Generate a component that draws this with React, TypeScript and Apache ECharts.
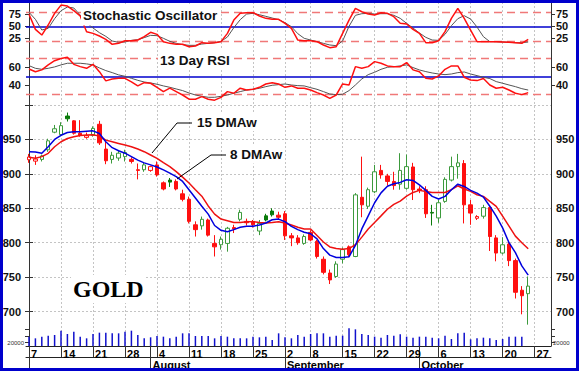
import React, { useEffect, useRef } from 'react';
import * as echarts from 'echarts';

// ---- x-axis (trading-day index) ----
const weekTickIdx = [0, 5, 10, 15, 20, 25, 30, 35, 40, 44, 49, 54, 59, 64, 69, 74, 79];
const weekLabels = ['7', '14', '21', '28', '4', '11', '18', '25', '2', '8', '15', '22', '29', '6', '13', '20', '27'];
const monthIdx = [0, 19, 40, 61];
const monthLabels = ['', 'August', 'September', 'October'];

// ---- price data (Jul 7 .. Oct 24) ----
const priorClose = 930;
const open = [920.5, 918.5, 921, 935, 960.5, 957, 984, 977, 959, 953, 956, 972, 936, 921, 923, 925, 921, 906, 906, 905, 913, 887, 891, 889, 871, 863, 826, 824.5, 833, 799, 797, 799, 822, 834, 831, 831, 817, 839, 846, 840, 842, 810, 807, 799, 815, 802, 776, 756, 751, 776, 794, 780, 866, 853, 874, 905, 897, 889, 885, 879, 910, 878, 877, 844, 836, 860, 891, 910.5, 915, 855, 835.5, 838.5, 851, 807, 785, 798, 774, 731, 726];
const high = [929, 927, 928, 951, 971, 975, 989, 978, 978, 960, 969, 977, 947, 932, 934, 935, 924, 915, 916, 912, 918, 889, 894, 892, 877, 867, 831, 838, 835, 811, 809, 823, 826, 848, 835, 833, 833, 842, 850, 845, 846, 814, 811, 812, 818, 804, 780, 761, 773, 793, 796, 872, 925, 880, 913, 913, 900, 903, 930, 928, 916, 882, 882, 855, 862, 895, 925, 929, 920, 862, 840, 855, 853, 811, 808, 801, 777, 737, 751];
const low = [916, 913, 918, 932, 959, 955, 976, 957, 954, 951, 954, 942, 914, 915, 919, 918, 915, 892, 903, 903, 896, 876, 881, 876, 860, 828, 809, 819, 809, 780, 790, 787, 814, 831, 825, 822, 811, 831, 838, 833, 804, 795, 797, 797, 802, 777, 754, 740, 749, 770, 779, 779, 837, 849, 872, 893, 883, 877, 877, 877, 862, 872, 836, 825, 829, 858, 889, 893, 828, 826, 833, 835, 788, 773, 783, 766, 719, 696, 681];
const close = [924.5, 921.5, 926, 948, 965.5, 970, 980, 959, 956, 955.5, 966, 945, 919, 927, 930, 931, 918, 905, 913, 910.5, 898.5, 878, 888, 878, 863, 831, 819, 834, 811, 794, 805, 821, 820, 844, 829, 826, 828, 833, 840.5, 837, 810, 807, 800, 809, 804, 780, 757, 746, 769, 790, 782.5, 869.5, 855, 877, 903, 898.5, 889, 883, 905, 910.5, 877, 876, 842, 843, 858, 892, 910.5, 916, 855, 843, 838, 851, 809, 785, 797, 774, 728, 723, 737];
const ma8 = [932, 931.7, 930, 939.4, 950, 956, 960, 961, 961, 962, 962.5, 958.7, 946.6, 938, 933.6, 930, 925, 920, 916, 913, 910, 905.7, 901, 896, 889, 877, 865, 853, 841.5, 825, 818, 816, 819, 822.4, 824, 824, 825.7, 828.6, 833.3, 834.3, 830.5, 823.8, 819, 815.3, 813, 805.7, 791.5, 782, 778.6, 778.6, 779.6, 796, 820, 839, 858, 872.4, 882, 885.7, 887.6, 891.4, 890.4, 884, 876, 867.3, 863.5, 867.3, 877, 885, 881.7, 876, 872, 866.3, 853, 838.5, 821.6, 800, 785.6, 766.3, 752.9];
const ma15 = [924, 922.6, 925, 929.8, 939.4, 946.6, 951.4, 953.8, 955.8, 956.3, 956.7, 954.8, 949, 946.6, 944.2, 941.8, 939.4, 936, 932.2, 927.4, 922.6, 916.2, 910.5, 903.3, 895.2, 886.7, 877, 867.6, 853.4, 841.5, 834.3, 832, 829.5, 829.5, 830.5, 830.5, 829.5, 828.6, 829.5, 830.5, 828.6, 825.7, 822.4, 820, 820, 810.5, 801, 793.9, 791.5, 790.5, 791.5, 797.2, 808.1, 820, 829.5, 839, 848.6, 855.7, 860.5, 867.6, 873, 876, 874.5, 873, 873, 873, 877, 882.7, 878, 874.5, 869.7, 867.3, 860, 852.9, 838.5, 824, 809.6, 800, 791.3];
const volume = [56000, 46000, 56000, 62000, 66000, 92000, 72000, 86000, 56000, 46000, 72000, 80000, 80000, 76000, 76000, 86000, 92000, 66000, 46000, 52000, 60000, 56000, 46000, 56000, 76000, 76000, 60000, 60000, 60000, 46000, 60000, 56000, 46000, 46000, 46000, 56000, 52000, 56000, 36000, 76000, 52000, 46000, 66000, 56000, 72000, 76000, 76000, 56000, 62000, 62000, 106000, 100000, 72000, 66000, 56000, 50000, 66000, 62000, 70000, 56000, 50000, 56000, 56000, 50000, 46000, 62000, 42000, 76000, 80000, 40000, 46000, 50000, 46000, 36000, 42000, 56000, 56000, 56000, 0];

// ---- oscillators ----
const stochK = [75, 43.8, 32, 52.8, 76.9, 94, 92, 82.4, 71.4, 39, 35.5, 30, 23, 12.8, 14.8, 20.3, 20.3, 21.7, 28.6, 37.6, 33.4, 18.3, 14.8, 12.8, 12.8, 7.9, 9.3, 16.2, 14.8, 16.2, 18.3, 35.5, 63, 76.9, 78.3, 78.3, 71.4, 66.6, 64.5, 64.5, 56.2, 45.9, 21.7, 20.3, 20.3, 18.3, 11.4, 5.9, 7.9, 35.5, 63, 87.2, 80.3, 75.5, 73.4, 78.3, 76.9, 70, 56.2, 54.8, 43.8, 35.5, 16.2, 16.2, 20.3, 39, 66.6, 87.2, 66.6, 42.4, 18.3, 18.3, 18.3, 18.3, 17.6, 16.9, 16.2, 14.8, 23];
const stochD = [79, 64.5, 42.4, 45.9, 65.9, 82.4, 90, 88, 73.4, 57.6, 46.6, 36.9, 29.3, 19.7, 16.9, 17.6, 21, 22.4, 26.6, 31.4, 30.7, 25.2, 19, 14.8, 12.1, 10.7, 10.7, 13.4, 14.8, 16.2, 19, 27.9, 47.2, 63.8, 75.5, 76.9, 74.1, 70.7, 67.2, 63.8, 57.6, 49.3, 34.8, 25.2, 21.7, 18.3, 14.8, 11.4, 10, 19.7, 50, 72.8, 76.2, 76.9, 75.5, 76.2, 76.2, 72.8, 66.6, 56.2, 46.6, 36.2, 27.2, 21.7, 21, 33.4, 51.4, 65.9, 72, 65.2, 48.6, 28.6, 18.3, 18.3, 17.6, 16.9, 16.2, 16.2, 17.6];
const rsi = [58, 55, 57, 62.4, 67, 69.3, 70.7, 63, 60.5, 58.7, 63, 55, 45, 47, 47.8, 47.8, 44, 39.5, 43, 42.4, 38, 33.3, 37, 33.3, 29.6, 25, 25, 27.8, 25, 24, 27, 33.3, 31.5, 37, 35, 35.8, 38, 41.6, 43, 41.6, 38, 39.5, 37, 37, 35, 32.2, 29.6, 26, 29.6, 41.6, 40.5, 60.5, 58.7, 60.5, 66, 64.2, 61.3, 60.5, 60.5, 65, 57, 55, 47.8, 47, 50.4, 57.6, 61.3, 61.3, 49, 46, 45.3, 47.5, 40.5, 37, 38, 35, 31.5, 30, 32.2];
const rsiSig = [61.6, 58.7, 57.6, 58.7, 60.2, 62.4, 64.2, 64.2, 64.2, 63.5, 62.4, 59.1, 56.2, 54, 51.5, 50, 47.8, 45.6, 43.8, 42.7, 41.3, 39.5, 38, 36.2, 34.4, 31.8, 29.6, 28.2, 27.1, 27.1, 28.2, 29.6, 31.5, 33.3, 35, 35.8, 36.9, 38.7, 40.2, 40.9, 41.6, 40.5, 39.8, 39.5, 37.6, 35.8, 33.3, 30.7, 30, 30.4, 34.4, 40.5, 47.1, 51.8, 54.4, 57.6, 59.8, 60.5, 61.3, 62.4, 59.5, 56.9, 55.1, 53.6, 52.5, 51.8, 52.5, 54, 54.7, 52.5, 50.7, 48.9, 47.5, 44.2, 42.4, 40.5, 38.7, 36.5, 35];

const stochLabels = [25, 50, 75];
const rsiLabels = [40, 60];
const priceTicks = [700, 750, 800, 850, 900, 950, 1000];
const priceLabels = [700, 750, 800, 850, 900, 950];
const volumeTicks = [20000, 60000, 100000];
const volumeLabels = [20000];

const FONT = '"Liberation Sans", Arial, sans-serif';
const RED = '#ff1010';
const GREEN_HOLLOW = '#3c9a3c';
const GREEN_FILL = '#0a7a0a';
const X_MIN = -0.47;
const X_MAX = 81.56;

function buildOption() {
  const weekMap: Record<number, string> = {};
  weekTickIdx.forEach((v, i) => (weekMap[v] = weekLabels[i]));
  const monthMap: Record<number, string> = {};
  monthIdx.forEach((v, i) => (monthMap[v] = monthLabels[i]));
  const allWeekTicks = Array.from(new Set([...weekTickIdx, ...monthIdx])).sort((a, b) => a - b);

  const candles = open.map((o, i) => {
    const c = close[i];
    const prev = i === 0 ? priorClose : close[i - 1];
    const col = c >= prev ? (c > o ? GREEN_HOLLOW : GREEN_FILL) : RED;
    const fill = c > o ? '#ffffff' : col;
    return {
      value: [i, o, c, low[i], high[i]],
      itemStyle: { color: fill, color0: fill, borderColor: col, borderColor0: col, borderWidth: 1 },
    };
  });

  const xHidden = (grid: number) => ({
    type: 'value', gridIndex: grid, min: X_MIN, max: X_MAX, show: false,
    splitLine: { show: false },
  });
  const axisLabelStyle = { fontFamily: FONT, fontSize: 11, fontWeight: 'bold', color: '#111' };
  const yPanel = (grid: number, pos: string, min: number, max: number, labels: number[], ticks: number[], split: boolean) => ({
    type: 'value', gridIndex: grid, position: pos, min, max,
    axisLine: { show: false },
    axisTick: { show: true, customValues: ticks, length: 4, lineStyle: { color: '#333' } },
    axisLabel: { show: true, customValues: labels, margin: 5, ...axisLabelStyle },
    splitLine: split ? { show: true, lineStyle: { color: '#c4c4c4', type: [2, 2], width: 1 } } : { show: false },
  });
  const yVolume = (pos: string) => ({
    type: 'value', gridIndex: 4, position: pos, min: 0, max: 120000,
    axisLine: { show: false }, splitLine: { show: false },
    axisTick: { show: true, customValues: volumeTicks, length: 4, lineStyle: { color: '#333' } },
    axisLabel: { show: true, customValues: volumeLabels, formatter: (v: number) => String(v), margin: 2, fontFamily: FONT, fontSize: 6, color: '#333' },
  });
  const hline = (y: number, color: string, dashed: boolean, width: number) => ({
    yAxis: y,
    lineStyle: { color, type: dashed ? [8, 5] : 'solid', width },
  });

  return {
    animation: false,
    backgroundColor: '#ffffff',
    grid: [
      { left: 26, right: 28, top: 2, height: 344, outerBoundsMode: 'none' },
      { left: 26, right: 28, top: 2.2, height: 48.3, outerBoundsMode: 'none' },
      { left: 26, right: 28, top: 50.5, height: 54.5, outerBoundsMode: 'none' },
      { left: 26, right: 28, top: 105, height: 241, outerBoundsMode: 'none' },
      { left: 26, right: 28, top: 326, height: 20, outerBoundsMode: 'none' },
    ],
    xAxis: [
      {
        type: 'value', gridIndex: 0, min: X_MIN, max: X_MAX,
        axisLine: { show: false },
        axisTick: { show: false, customValues: weekTickIdx },
        axisLabel: { show: false },
        splitLine: { show: true, lineStyle: { color: '#c4c4c4', type: [2, 2], width: 1 } },
      },
      xHidden(1),
      xHidden(2),
      {
        type: 'value', gridIndex: 3, position: 'bottom', min: X_MIN, max: X_MAX,
        axisLine: { show: true, onZero: false, lineStyle: { color: '#222', width: 1 } },
        axisTick: { show: true, customValues: allWeekTicks, length: 11, lineStyle: { color: '#333' } },
        axisLabel: {
          show: true, customValues: weekTickIdx, formatter: (v: number) => weekMap[Math.round(v)] ?? '',
          align: 'left', padding: [0, 0, 0, 2], margin: 2, ...axisLabelStyle, color: '#000',
        },
        splitLine: { show: false },
      },
      {
        type: 'value', gridIndex: 3, position: 'bottom', offset: 11, min: X_MIN, max: X_MAX,
        axisLine: { show: true, onZero: false, lineStyle: { color: '#222', width: 1 } },
        axisTick: { show: true, customValues: monthIdx, length: 14, lineStyle: { color: '#333' } },
        axisLabel: {
          show: true, customValues: monthIdx.slice(1), formatter: (v: number) => monthMap[Math.round(v)] ?? '',
          align: 'left', padding: [0, 0, 0, 2], margin: 2, ...axisLabelStyle, color: '#000',
        },
        splitLine: { show: false },
      },
      xHidden(4),
    ],
    yAxis: [
      { type: 'value', gridIndex: 0, min: 0, max: 1, position: 'left', axisLine: { show: true, lineStyle: { color: '#333' } }, axisTick: { show: false }, axisLabel: { show: false }, splitLine: { show: false } },
      { type: 'value', gridIndex: 0, min: 0, max: 1, position: 'right', axisLine: { show: true, lineStyle: { color: '#333' } }, axisTick: { show: false }, axisLabel: { show: false }, splitLine: { show: false } },
      yPanel(1, 'left', 0, 100, stochLabels, [...stochLabels, 100], false),
      yPanel(1, 'right', 0, 100, stochLabels, [...stochLabels, 100], false),
      yPanel(2, 'left', 18.7, 78.1, rsiLabels, rsiLabels, false),
      yPanel(2, 'right', 18.7, 78.1, rsiLabels, rsiLabels, false),
      yPanel(3, 'left', 650, 1000, priceLabels, priceTicks, true),
      yPanel(3, 'right', 650, 1000, priceLabels, priceTicks, false),
      yVolume('left'),
      yVolume('right'),
    ],
    series: [
      {
        type: 'line', name: 'stochD', xAxisIndex: 1, yAxisIndex: 2, data: stochD.map((v, i) => [i, v]),
        symbol: 'none', lineStyle: { color: '#555', width: 1 }, z: 2,
        markLine: {
          silent: true, symbol: 'none', label: { show: false }, z: 1,
          data: [hline(80, '#f07878', true, 1.3), hline(20, '#f07878', true, 1.3), hline(50, '#0000cc', false, 1.5)],
        },
      },
      {
        type: 'line', name: 'stochK', xAxisIndex: 1, yAxisIndex: 2, data: stochK.map((v, i) => [i, v]),
        symbol: 'none', lineStyle: { color: RED, width: 1.5 }, z: 3,
      },
      {
        type: 'line', name: 'rsiSig', xAxisIndex: 2, yAxisIndex: 4, data: rsiSig.map((v, i) => [i, v]),
        symbol: 'none', lineStyle: { color: '#555', width: 1 }, z: 2,
        markLine: {
          silent: true, symbol: 'none', label: { show: false }, z: 1,
          data: [hline(70, '#f07878', true, 1.3), hline(30, '#f07878', true, 1.3), hline(50, '#0000cc', false, 1.5)],
        },
      },
      {
        type: 'line', name: 'rsi', xAxisIndex: 2, yAxisIndex: 4, data: rsi.map((v, i) => [i, v]),
        symbol: 'none', lineStyle: { color: RED, width: 1.5 }, z: 3,
      },
      {
        type: 'candlestick', name: 'gold', xAxisIndex: 3, yAxisIndex: 6, data: candles,
        barWidth: 4, z: 2,
      },
      {
        type: 'line', name: '15 DMAw', xAxisIndex: 3, yAxisIndex: 6, data: ma15.map((v, i) => [i, v]),
        symbol: 'none', lineStyle: { color: '#ee1111', width: 1.5 }, z: 3,
      },
      {
        type: 'line', name: '8 DMAw', xAxisIndex: 3, yAxisIndex: 6, data: ma8.map((v, i) => [i, v]),
        symbol: 'none', lineStyle: { color: '#0000dd', width: 1.5 }, z: 4,
      },
      {
        type: 'bar', name: 'volume', xAxisIndex: 5, yAxisIndex: 8, data: volume.map((v, i) => [i, v]),
        barWidth: 1.5, itemStyle: { color: '#1010cc' }, z: 2,
      },
    ],
    graphic: [
      { type: 'rect', z: 200, silent: true, shape: { x: 1.5, y: 1.5, width: 576, height: 368 }, style: { fill: 'none', stroke: '#0000cc', lineWidth: 3 } },
      { type: 'polyline', z: 100, silent: true, shape: { points: [[152, 153], [177, 123], [192, 123]] }, style: { stroke: '#000', lineWidth: 1, fill: 'none' } },
      { type: 'polyline', z: 100, silent: true, shape: { points: [[177, 179], [211, 155], [226, 155]] }, style: { stroke: '#000', lineWidth: 1, fill: 'none' } },
      { type: 'text', z: 100, silent: true, x: 81, y: 15.5, style: { text: 'Stochastic Oscillator', font: `bold 13.5px ${FONT}`, fill: '#111', verticalAlign: 'middle', backgroundColor: '#fff', padding: [3, 2, 3, 2] } },
      { type: 'text', z: 100, silent: true, x: 158, y: 60, style: { text: '13 Day RSI', font: `bold 13.5px ${FONT}`, fill: '#111', verticalAlign: 'middle', backgroundColor: '#fff', padding: [3, 2, 3, 2] } },
      { type: 'text', z: 100, silent: true, x: 195, y: 122, style: { text: '15 DMAw', font: `bold 13.5px ${FONT}`, fill: '#111', verticalAlign: 'middle', backgroundColor: '#fff', padding: [2, 2, 2, 2] } },
      { type: 'text', z: 100, silent: true, x: 228, y: 154.5, style: { text: '8 DMAw', font: `bold 13.5px ${FONT}`, fill: '#111', verticalAlign: 'middle', backgroundColor: '#fff', padding: [2, 2, 2, 2] } },
      { type: 'text', z: 100, silent: true, x: 71, y: 289, style: { text: 'GOLD', font: `bold 24px "Liberation Serif", "Times New Roman", serif`, fill: '#000', verticalAlign: 'middle', backgroundColor: '#fff', padding: [2, 2, 2, 2] } },
    ],
  };
}

export default function App() {
  const ref = useRef<HTMLDivElement>(null);
  useEffect(() => {
    if (!ref.current) return;
    const chart = echarts.init(ref.current, null, { renderer: 'svg' });
    chart.setOption(buildOption() as any);
    return () => chart.dispose();
  }, []);
  return (
    <div
      ref={ref}
      style={{ position: 'absolute', left: 0, top: 0, width: 579, height: 371, background: '#fff' }}
    />
  );
}
